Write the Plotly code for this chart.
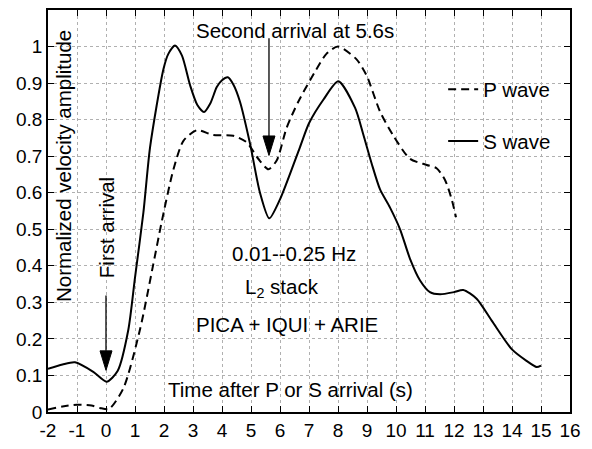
import plotly.graph_objects as go

# S wave (solid)
s_t = [-2, -1.5, -1.07, -0.44, 0.02, 0.4, 0.77, 1.0, 1.29, 1.52, 1.98, 2.15, 2.38, 2.62, 2.9, 3.15,
       3.38, 3.6, 3.82, 4.0, 4.2, 4.4, 4.62, 4.97, 5.31, 5.63, 6.0, 6.69, 7.0, 7.5, 8.01, 8.59,
       8.87, 9.16, 9.45, 9.79, 10.14, 10.48, 10.83, 11.17, 11.52, 12.0, 12.32, 12.78, 13.3,
       13.99, 14.5, 14.85, 15.0]
s_amp = [0.118, 0.13, 0.136, 0.11, 0.083, 0.112, 0.225, 0.368, 0.546, 0.725, 0.938, 0.98, 1.003,
         0.975, 0.894, 0.84, 0.821, 0.845, 0.889, 0.908, 0.916, 0.895, 0.849, 0.733, 0.60, 0.530,
         0.582, 0.725, 0.79, 0.855, 0.905, 0.832, 0.76, 0.68, 0.609, 0.56, 0.50, 0.42, 0.36,
         0.328, 0.322, 0.328, 0.334, 0.31, 0.25, 0.172, 0.14, 0.123, 0.127]

# P wave (dashed)
p_t = [-2, -1.5, -1, -0.5, -0.21, 0.1, 0.6, 1.17, 1.63, 1.92, 2.32, 2.67, 3.13, 3.7, 4.39, 4.85,
       5.25, 5.6, 5.89, 6.23, 6.63, 7.2, 7.6, 8.0, 8.64, 8.99, 9.45, 9.91, 10.48, 11.06, 11.4,
       11.69, 11.92, 12.07]
p_amp = [0.007, 0.015, 0.02, 0.018, 0.011, 0.008, 0.065, 0.225, 0.404, 0.52, 0.662, 0.742, 0.771,
         0.758, 0.756, 0.738, 0.693, 0.664, 0.689, 0.778, 0.849, 0.93, 0.98, 1.0, 0.965, 0.92,
         0.822, 0.756, 0.693, 0.676, 0.667, 0.635, 0.582, 0.533]

x_ticks = list(range(-2, 17))
x_tick_labels = [str(v) for v in x_ticks]
y_ticks = [0, 0.1, 0.2, 0.3, 0.4, 0.5, 0.6, 0.7, 0.8, 0.9, 1]
y_tick_labels = ["0", "0.1", "0.2", "0.3", "0.4", "0.5", "0.6", "0.7", "0.8", "0.9", "1"]

# arrows: (tail x, tail y, tip x, tip y)
arrows = [(5.62, 1.023, 5.62, 0.702), (0.0, 0.319, 0.0, 0.114)]

FONT = "Liberation Sans, Arial, Helvetica, sans-serif"
TXT = 20.5
X_RANGE = [-2, 16]
Y_RANGE = [0, 1.1]
W, H = 592, 449
M = dict(l=48, r=22, t=8, b=28)
px_x = (X_RANGE[1] - X_RANGE[0]) / (W - M["l"] - M["r"])   # data units per pixel
px_y = (Y_RANGE[1] - Y_RANGE[0]) / (H - M["t"] - M["b"])

fig = go.Figure()
fig.add_trace(go.Scatter(x=p_t, y=p_amp, mode="lines", name="P wave", legendgroup="p",
                         line=dict(color="black", width=2, dash="8px,5px", shape="spline", smoothing=0.7)))
fig.add_trace(go.Scatter(x=s_t, y=s_amp, mode="lines", name="S wave", legendgroup="s",
                         line=dict(color="black", width=2, shape="spline", smoothing=0.7)))

axis_common = dict(showline=True, linecolor="black", linewidth=1.5, mirror="ticks",
                   ticks="inside", ticklen=6, tickcolor="black", tickwidth=1,
                   showgrid=True, gridcolor="#b0b0b0", griddash="dot", gridwidth=1,
                   zeroline=False, tickfont=dict(family=FONT, size=19, color="black"))

fig.update_xaxes(range=X_RANGE, tickvals=x_ticks, ticktext=x_tick_labels, **axis_common)
fig.update_yaxes(range=Y_RANGE, tickvals=y_ticks, ticktext=y_tick_labels, **axis_common)

annots = [
    dict(x=6.52, y=1.045, text="Second arrival at 5.6s"),
    dict(x=6.48, y=0.435, text="0.01--0.25 Hz"),
    dict(x=6.07, y=0.338, text="L<sub>2</sub> stack"),
    dict(x=6.25, y=0.24, text="PICA + IQUI + ARIE"),
    dict(x=6.36, y=0.062, text="Time after P or S arrival (s)"),
    dict(x=0.0, y=0.503, text="First arrival", textangle=-90),
    dict(x=-1.47, y=0.674, text="Normalized velocity amplitude", textangle=-90),
]
for a in annots:
    fig.add_annotation(xref="x", yref="y", showarrow=False,
                       font=dict(family=FONT, size=TXT, color="black"), **a)

# arrows drawn as line + elongated filled head
head_len, head_half = 20, 6  # pixels
for (tx, ty, hx, hy) in arrows:
    base_y = hy + head_len * px_y
    fig.add_shape(type="line", x0=tx, y0=ty, x1=hx, y1=base_y, xref="x", yref="y",
                  line=dict(color="black", width=1.3))
    path = (f"M{hx},{hy} L{hx - head_half * px_x},{base_y} "
            f"L{hx + head_half * px_x},{base_y} Z")
    fig.add_shape(type="path", path=path, xref="x", yref="y",
                  fillcolor="black", line=dict(color="black", width=1))

fig.update_layout(
    width=W, height=H,
    margin=M,
    paper_bgcolor="white", plot_bgcolor="white",
    showlegend=True,
    legend=dict(x=0.757, y=0.852, xanchor="left", yanchor="top", bgcolor="rgba(0,0,0,0)",
                font=dict(family=FONT, size=TXT, color="black"), tracegroupgap=22,
                traceorder="grouped"),
)

fig.write_html("out.html")
